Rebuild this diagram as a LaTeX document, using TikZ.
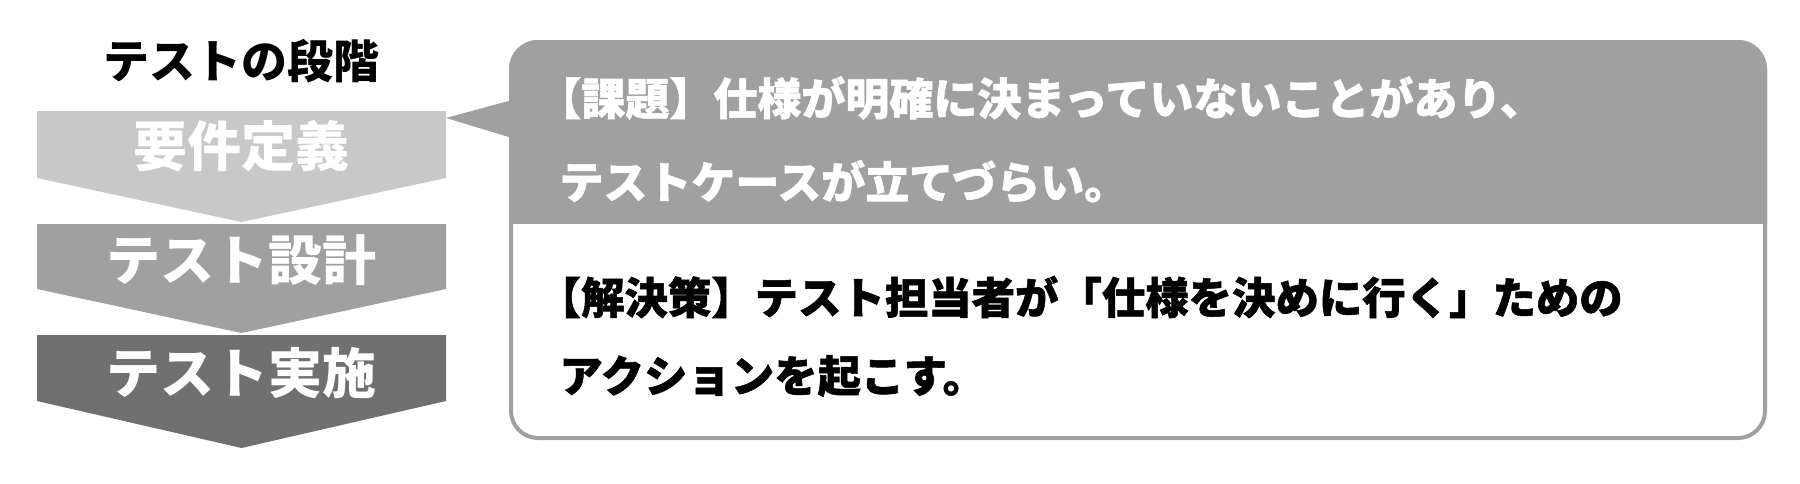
\documentclass[tikz,border=0pt]{standalone}
\usepackage{fontspec}
\setmainfont{Noto Sans CJK JP}
\newfontfamily\heavyfont{Noto Sans CJK JP Black}[FakeBold=1.2]
\definecolor{cone}{HTML}{C8C8C8}
\definecolor{ctwo}{HTML}{A0A0A0}
\definecolor{cthree}{HTML}{707070}
\definecolor{boxgray}{HTML}{A0A0A0}
\begin{document}
\begin{tikzpicture}[x=0.5pt,y=-0.5pt,
  chevtext/.style={text=white,font=\bfseries\fontsize{27}{30}\selectfont,inner sep=0pt},
  headtext/.style={text=white,font=\heavyfont\fontsize{22}{24}\selectfont,inner sep=0pt,anchor=west},
  bodytext/.style={text=black,font=\heavyfont\fontsize{21.7}{24}\selectfont,inner sep=0pt,anchor=west},
  titletext/.style={text=black,font=\bfseries\fontsize{23}{26}\selectfont,inner sep=0pt}]
\useasboundingbox (0,0) rectangle (1800,483);
\fill[white] (0,0) rectangle (1800,483);
% chevrons
\fill[cone] (37,111) -- (446,111) -- (446,178) -- (241.5,222) -- (37,178) -- cycle;
\fill[ctwo] (37,224) -- (446,224) -- (446,289) -- (241.5,333) -- (37,289) -- cycle;
\fill[cthree] (37,335) -- (446,335) -- (446,401) -- (241.5,448) -- (37,401) -- cycle;
\node[titletext] (title) at (241,61) {テストの段階};
\node[chevtext] (s1) at (241.5,146) {要件定義};
\node[chevtext] (s2) at (241.5,260) {テスト設計};
\node[chevtext] (s3) at (241.5,373) {テスト実施};
% callout box
\draw[line width=2pt,draw=boxgray,fill=white,rounded corners=13.5pt] (511,42) rectangle (1765,438);
\begin{scope}
\clip (0,0) rectangle (1800,223);
\fill[boxgray,rounded corners=14.5pt] (509,40) rectangle (1767,440);
\end{scope}
\fill[boxgray] (512,100) -- (446,118) -- (512,138) -- cycle;
\node[headtext] (h1) at (559,98) {\hspace{-0.5em}【課題】仕様が明確に決まっていないことがあり、};
\node[headtext] (h2) at (559,181.5) {テストケースが立てづらい。};
\node[bodytext] (b1) at (559,297) {\hspace{-0.5em}【解決策】テスト担当者が「仕様を決めに行く」ための};
\node[bodytext] (b2) at (559,376) {アクションを起こす。};
\end{tikzpicture}
\end{document}
